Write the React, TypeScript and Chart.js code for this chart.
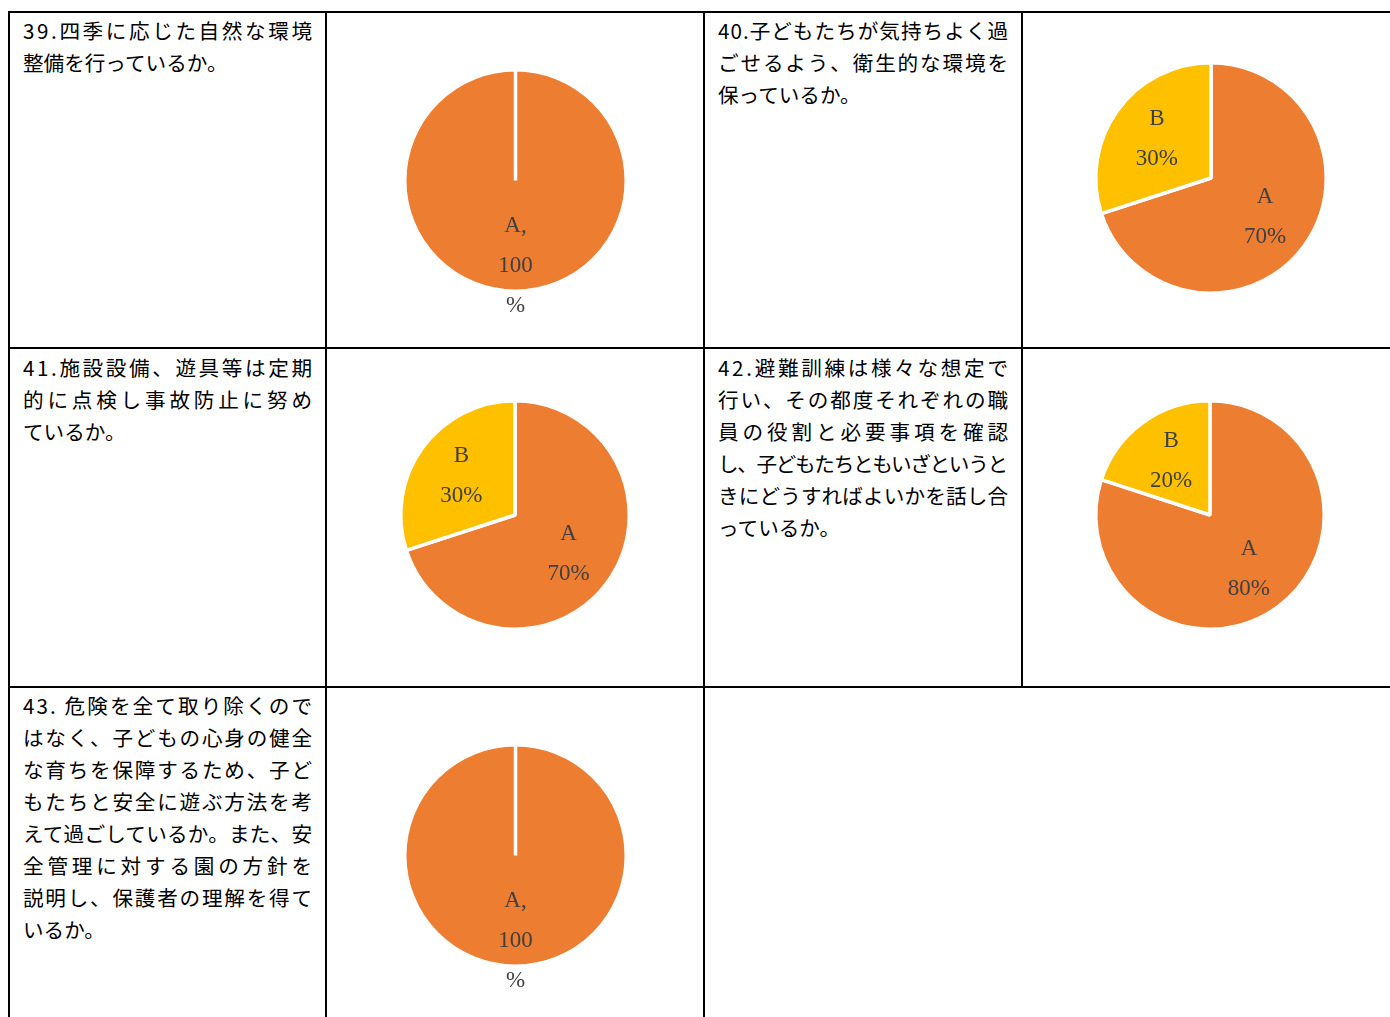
import React, { useEffect, useLayoutEffect, useRef, useState } from "react";
import { Chart, registerables } from "chart.js";

Chart.register(...registerables);

// ---- data ----
const categories = ["A", "B"];
const q39Values = [100, 0];
const q40Values = [70, 30];
const q41Values = [70, 30];
const q42Values = [80, 20];
const q43Values = [100, 0];
const sliceColors = ["#ED7D31", "#FFC000"];

const q39Text = ["39.四季に応じた自然な環境", "整備を行っているか。"];
const q40Text = ["40.子どもたちが気持ちよく過", "ごせるよう、衛生的な環境を", "保っているか。"];
const q41Text = ["41.施設設備、遊具等は定期", "的に点検し事故防止に努め", "ているか。"];
const q42Text = [
  "42.避難訓練は様々な想定で",
  "行い、その都度それぞれの職",
  "員の役割と必要事項を確認",
  "し、子どもたちともいざというと",
  "きにどうすればよいかを話し合",
  "っているか。",
];
const q43Text = [
  "43. 危険を全て取り除くので",
  "はなく、子どもの心身の健全",
  "な育ちを保障するため、子ど",
  "もたちと安全に遊ぶ方法を考",
  "えて過ごしているか。また、安",
  "全管理に対する園の方針を",
  "説明し、保護者の理解を得て",
  "いるか。",
];

// ---- label plugin ----
const sliceLabelPlugin = {
  id: "sliceLabels",
  afterDatasetsDraw(chart: any) {
    const ctx = chart.ctx;
    const meta = chart.getDatasetMeta(0);
    const ds = chart.data.datasets[0];
    const labels = chart.data.labels as string[];
    const data = ds.data as number[];
    const total = data.reduce((a, b) => a + b, 0);
    const single = data.filter((v) => v > 0).length === 1;
    ctx.save();
    ctx.font = '23px "Liberation Serif", "DejaVu Serif", serif';
    ctx.fillStyle = "#404040";
    ctx.textAlign = "center";
    ctx.textBaseline = "middle";
    meta.data.forEach((arc: any, i: number) => {
      const v = data[i];
      if (!v) return;
      const p = arc.getProps(["x", "y", "startAngle", "endAngle", "outerRadius"], true);
      const mid = (p.startAngle + p.endAngle) / 2;
      const f = single ? 0.77 : 0.58;
      const cx = p.x + Math.cos(mid) * p.outerRadius * f;
      const cy = p.y + Math.sin(mid) * p.outerRadius * f;
      const pct = Math.round((v / total) * 100);
      const lines = single ? [`${labels[i]},`, `${pct}`, "%"] : [labels[i], `${pct}%`];
      lines.forEach((t, j) => {
        ctx.fillText(t, cx, cy + (j - (lines.length - 1) / 2) * 40);
      });
    });
    ctx.restore();
  },
};

const BW = 3.5;
const PAD = 70;

function Pie({ values, cx, cy, r }: { values: number[]; cx: number; cy: number; r: number }) {
  const ref = useRef<HTMLCanvasElement | null>(null);
  const size = Math.round(2 * (r + BW)) + 2 * PAD;
  useEffect(() => {
    if (!ref.current) return;
    const chart = new Chart(ref.current, {
      type: "pie",
      data: {
        labels: categories,
        datasets: [
          {
            data: values,
            backgroundColor: sliceColors,
            borderColor: "#FFFFFF",
            borderWidth: BW,
          },
        ],
      },
      options: {
        responsive: false,
        maintainAspectRatio: false,
        animation: false,
        devicePixelRatio: 1,
        layout: { padding: PAD },
        plugins: {
          legend: { display: false },
          tooltip: { enabled: false },
          title: { display: false },
        },
        events: [],
      },
      plugins: [sliceLabelPlugin],
    });
    return () => chart.destroy();
  }, []);
  return (
    <canvas
      ref={ref}
      width={size}
      height={size}
      style={{ position: "absolute", left: cx - size / 2, top: cy - size / 2, width: size, height: size }}
    />
  );
}

function TextBlock({ lines, left, top, width }: { lines: string[]; left: number; top: number; width: number }) {
  const refs = useRef<(HTMLSpanElement | null)[]>([]);
  const [spacing, setSpacing] = useState<number[]>(lines.map(() => 0));
  useLayoutEffect(() => {
    const compute = () => {
      const out = lines.map((t, i) => {
        const el = refs.current[i];
        if (!el) return 0;
        const prev = el.style.letterSpacing;
        el.style.letterSpacing = "0px";
        const w = el.getBoundingClientRect().width;
        el.style.letterSpacing = prev;
        const n = Array.from(t).length;
        if (i === lines.length - 1) {
          return w > width ? (width - w) / Math.max(n - 1, 1) : 0;
        }
        return (width - w) / Math.max(n - 1, 1);
      });
      setSpacing(out);
    };
    compute();
    (document as any).fonts?.ready?.then(compute);
  }, []);
  return (
    <div
      style={{
        position: "absolute",
        left,
        top,
        width,
        fontFamily: '"Noto Sans CJK JP", "Noto Sans", sans-serif',
        fontSize: 20.6,
        lineHeight: "32px",
        color: "#000",
      }}
    >
      {lines.map((t, i) => (
        <div key={i} style={{ whiteSpace: "nowrap", height: 32 }}>
          <span
            ref={(el) => {
              refs.current[i] = el;
            }}
            style={{ letterSpacing: spacing[i] + "px", whiteSpace: "nowrap" }}
          >
            {t}
          </span>
        </div>
      ))}
    </div>
  );
}

function Line({ left, top, width, height }: { left: number; top: number; width: number; height: number }) {
  return <div style={{ position: "absolute", left, top, width, height, background: "#000" }} />;
}

export default function App() {
  useEffect(() => {
    document.body.style.overflow = "hidden";
  }, []);
  return (
    <div style={{ position: "absolute", left: 0, top: 0, width: 1390, height: 1017, overflow: "hidden", background: "#fff" }}>
      {/* grid lines */}
      <Line left={8} top={11} width={1382} height={2} />
      <Line left={8} top={347} width={1382} height={2} />
      <Line left={8} top={686} width={1382} height={2} />
      <Line left={8} top={11} width={2} height={1006} />
      <Line left={325} top={11} width={2} height={1006} />
      <Line left={703} top={11} width={2} height={1006} />
      <Line left={1021} top={11} width={2} height={677} />

      <TextBlock lines={q39Text} left={23} top={14} width={289} />
      <TextBlock lines={q40Text} left={718} top={14} width={290} />
      <TextBlock lines={q41Text} left={23} top={351} width={289} />
      <TextBlock lines={q42Text} left={718} top={351} width={290} />
      <TextBlock lines={q43Text} left={23} top={689} width={289} />

      <Pie values={q39Values} cx={515} cy={180} r={109} />
      <Pie values={q40Values} cx={1211} cy={178} r={113.5} />
      <Pie values={q41Values} cx={515} cy={515} r={112.5} />
      <Pie values={q42Values} cx={1210} cy={515} r={112.5} />
      <Pie values={q43Values} cx={515} cy={855} r={109} />
    </div>
  );
}
